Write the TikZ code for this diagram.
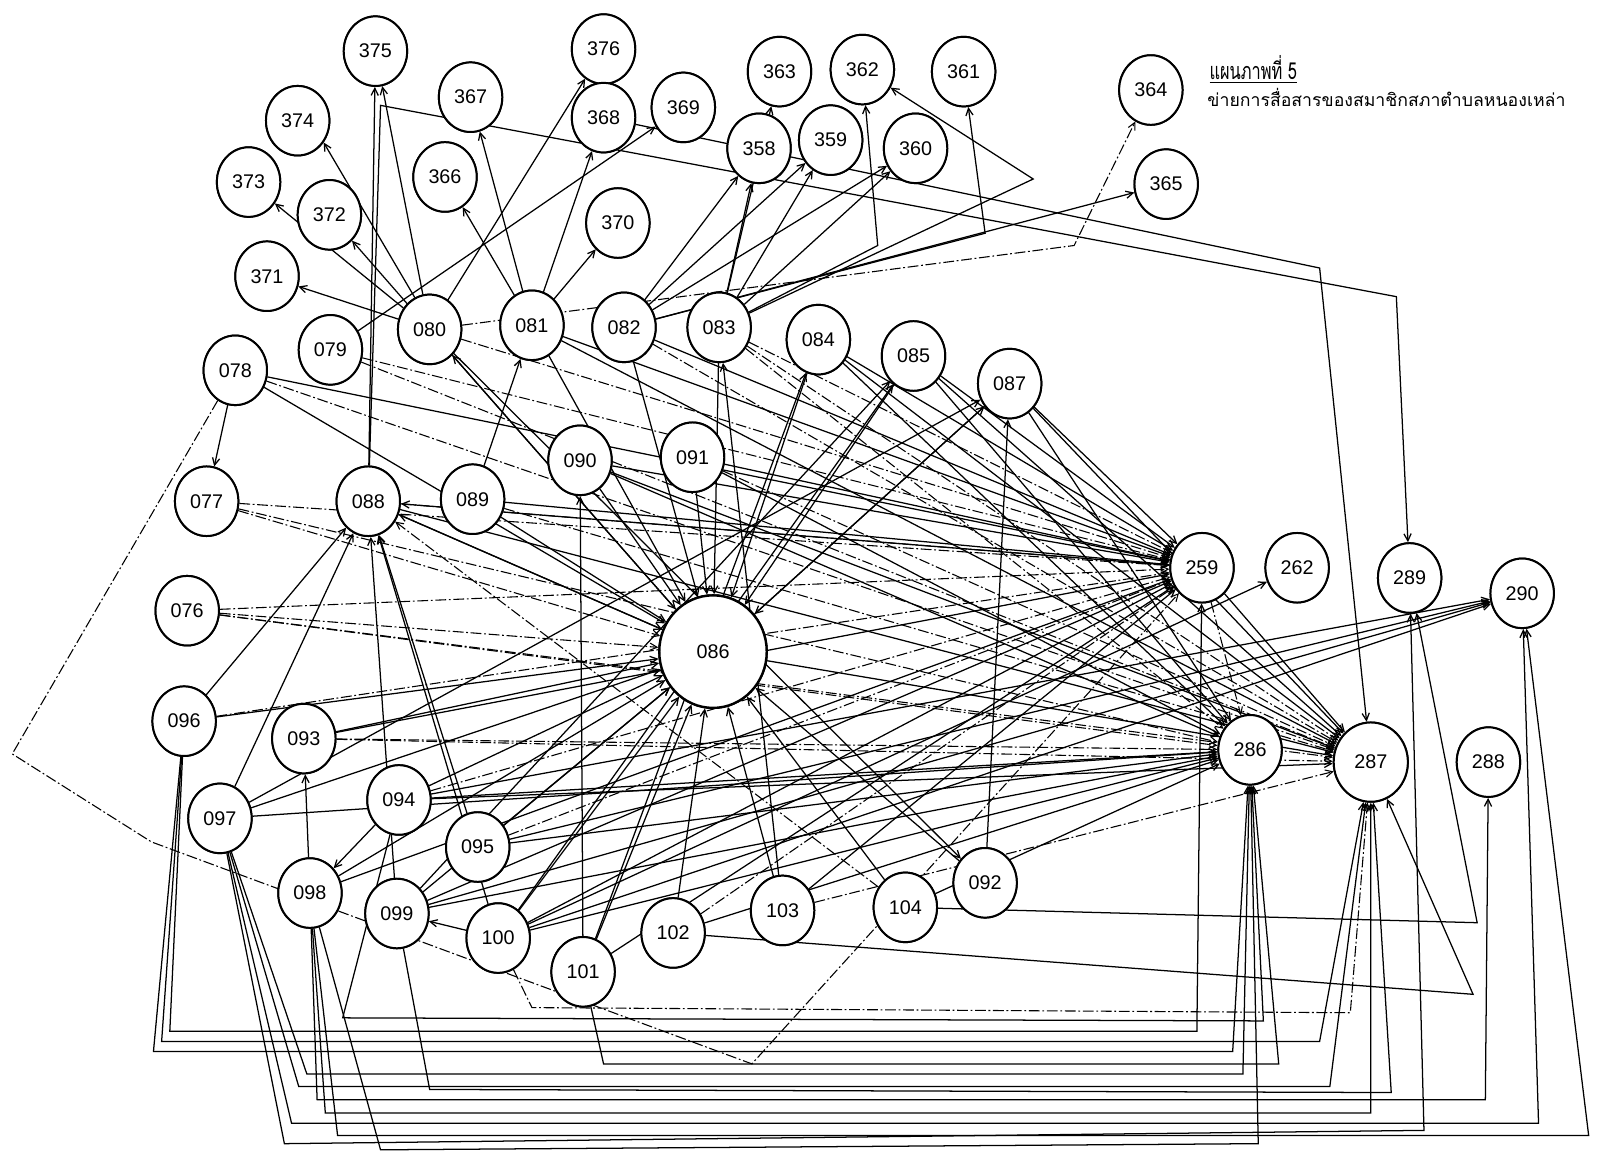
\documentclass[tikz,border=0pt]{standalone}
\usepackage{fontspec}
\setsansfont{Liberation Sans}
\newfontfamily\thai[Script=Thai]{Loma}
\usetikzlibrary{shapes.geometric,arrows.meta}
\begin{document}
\begin{tikzpicture}[x=0.02cm,y=-0.02cm,
  n/.style={draw, ellipse, line width=1.1pt, fill=white, minimum width=1.24cm, minimum height=1.36cm, inner sep=0pt, font=\sffamily\fontsize{11}{12}\selectfont},
  big/.style={minimum width=2.1cm, minimum height=2.2cm, line width=1.3pt},
  mid/.style={minimum width=1.45cm, minimum height=1.55cm},
  e/.style={-{Straight Barb[length=4pt,width=4pt]}, line width=0.7pt},
  d/.style={e, line width=0.6pt, dash pattern=on 6pt off 1.5pt on 1pt off 1.5pt}]
\fill[white] (0,0) rectangle (1568,1128);
\useasboundingbox (0,0) rectangle (1568,1128);
\foreach \nm/\x/\y in {375/367/50,376/590/48,374/291/118,367/460/95,368/590/115,369/668/105,363/762/70,362/843/68,361/942/70,364/1125/88,358/742/145,359/812/137,360/895/145,365/1140/180,373/243/178,372/322/210,366/435/173,370/604/218,371/261/270,079/323/342,080/420/322,081/520/318,082/610/320,083/703/320,084/800/332,085/893/348,087/987/375,078/230/362,077/202/490,088/360/490,089/462/488,090/567/450,091/677/447,259/1175/555,262/1268/555,289/1378/565,290/1488/580,076/183/597,096/180/705,093/297/722,094/390/782,095/467/828,097/215/800,098/303/873,099/388/893,100/487/917,101/570/950,102/658/912,103/765/890,104/885/887,092/963/863,286/1222/733,288/1455/745}
  \node[n] (n\nm) at (\x,\y) {\nm};
\node[n,big] (n086) at (697,637) {086};
\node[n,mid] (n287) at (1340,745) {287};
% solid edges
\foreach \a/\b in {080/371,080/373,080/372,080/375,088/375,080/376,081/366,081/367,081/368,081/370,079/369,082/358,082/359,083/358,083/359,083/360,082/360,083/363,082/365,089/081,078/077,098/093,100/099,101/090,092/087,103/083,094/098,
 080/086,081/086,082/086,083/086,084/086,085/086,087/086,088/086,089/086,090/086,091/086,078/086,096/086,093/086,094/086,095/086,097/086,098/086,099/086,100/086,101/086,102/086,103/086,104/086,092/086,
 078/259,081/259,082/259,084/259,085/259,087/259,089/259,090/259,091/259,093/259,099/259,100/259,101/259,103/259,
 084/286,085/286,087/286,090/286,091/286,094/286,095/286,097/286,099/286,100/286,102/286,104/286,
 081/287,084/287,085/287,087/287,090/287,094/287,086/287,259/287,
 095/088,099/088,100/088,086/088,259/088,
 100/262,099/290,100/290,094/290,099/085,100/085,101/084,086/087,086/080,080/092,096/088,097/088,088/287,097/087,098/259,095/290}
  \draw[e] (n\a) -- (n\b);
\draw[e] (n080.115) -- (n374.-40);
% dash-dot edges
\foreach \a/\b in {076/086,077/086,076/259,077/259,079/259,080/259,083/259,088/259,102/259,093/286,259/286,083/286,076/287,082/287,093/287,091/287,077/286,079/287,104/088,096/259,076/286,095/259,089/287,078/287,083/287,094/259,103/287}
  \draw[d] (n\a) -- (n\b);
% polylines
\draw[e] (n083) -- (858,240) -- (n362);
\draw[e] (n082) -- (963,228) -- (n361);
\draw[e] (n083) -- (1010,175) -- (n362);
\draw[d] (n080) -- (1050,240) -- (n364);
\draw[e] (n088) -- (372,103) -- (1365,290) -- (n289);
\draw[e] (n368) -- (1290,262) -- (n287);
\draw[d] (n078) -- (12,737) -- (148,823) -- (735,1040) -- (n259);
\draw[e] (n104) -- (1444,902) -- (n289);
\draw[e] (n102) -- (1440,972) -- (n287);
% bottom orthogonal routes
\draw[e] (n096) -- (150,1028) -- (1205,1028) -- (n286);
\draw[e] (n096) -- (158,1018) -- (1290,1018) -- (n287);
\draw[e] (n096) -- (166,1008) -- (1170,1008) -- (n259);
\draw[e] (n097) -- (300,1050) -- (1215,1050) -- (n286);
\draw[e] (n097) -- (292,1062) -- (1300,1062) -- (n287);
\draw[e] (n097) -- (285,1098) -- (1504,1098) -- (n290);
\draw[e] (n098) -- (310,1075) -- (1452,1075) -- (n288);
\draw[e] (n098) -- (318,1088) -- (1340,1088) -- (n287);
\draw[e] (n098) -- (330,1110) -- (1553,1110) -- (n290);
\draw[e] (n098) -- (372,1124) -- (1230,1118) -- (n286);
\draw[e] (n094) -- (335,995) -- (1235,998) -- (n286);
\draw[e] (n101) -- (590,1040) -- (1250,1040) -- (n286);
\draw[e] (n097) -- (278,1118) -- (1392,1105) -- (n289);
\draw[e] (n099) -- (420,1065) -- (1360,1068) -- (n287);
\draw[d] (n100) -- (520,985) -- (1320,990) -- (n287);
% redraw nodes on top
\foreach \nm/\x/\y in {375/367/50,376/590/48,374/291/118,367/460/95,368/590/115,369/668/105,363/762/70,362/843/68,361/942/70,364/1125/88,358/742/145,359/812/137,360/895/145,365/1140/180,373/243/178,372/322/210,366/435/173,370/604/218,371/261/270,079/323/342,080/420/322,081/520/318,082/610/320,083/703/320,084/800/332,085/893/348,087/987/375,078/230/362,077/202/490,088/360/490,089/462/488,090/567/450,091/677/447,259/1175/555,262/1268/555,289/1378/565,290/1488/580,076/183/597,096/180/705,093/297/722,094/390/782,095/467/828,097/215/800,098/303/873,099/388/893,100/487/917,101/570/950,102/658/912,103/765/890,104/885/887,092/963/863,286/1222/733,288/1455/745}
  \node[n] at (\x,\y) {\nm};
\node[n,big] at (697,637) {086};
\node[n,mid] at (1340,745) {287};
% title
\node[anchor=base west, font=\thai\fontsize{13}{15}\selectfont, inner sep=0pt] (title) at (1182,78) {\scalebox{0.7}[1]{\underline{แผนภาพที่ 5}}};
\node[anchor=base west, font=\thai\fontsize{12.5}{14}\selectfont, inner sep=0pt] (sub) at (1180,104) {\resizebox{7cm}{!}{ข่ายการสื่อสารของสมาชิกสภาตำบลหนองเหล่า}};
\end{tikzpicture}
\end{document}
